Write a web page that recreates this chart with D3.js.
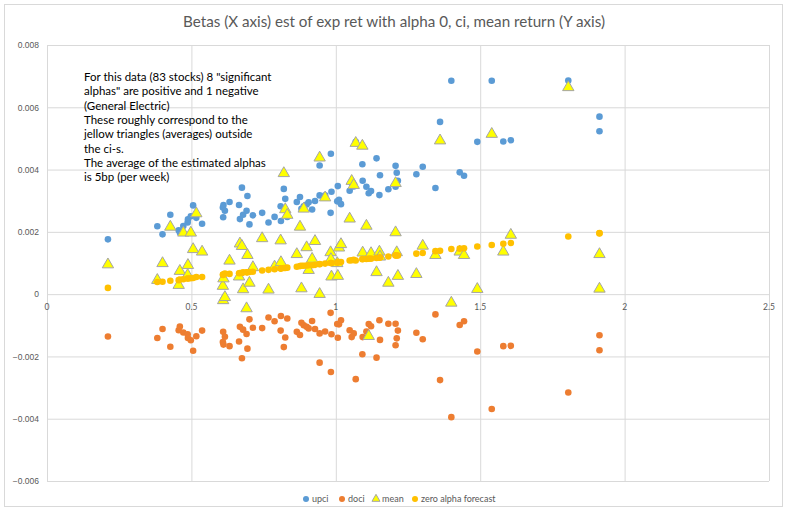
<!DOCTYPE html>
<html>
<head>
<meta charset="utf-8">
<script src="https://cdn.jsdelivr.net/npm/d3@7"></script>
<style>
  body { margin: 0; background: #fff; }
  svg { display: block; font-family: Lato, "Open Sans", sans-serif; }
</style>
</head>
<body>
<svg id="chart" width="787" height="515"></svg>
<script>
// betas of the 83 stocks (x) and the four series (y)
const betas = [
  0.211, 0.382, 0.400, 0.427, 0.456, 0.460, 0.472, 0.487, 0.488, 0.498, 0.506, 0.517, 0.537,
  0.609, 0.610, 0.611, 0.616, 0.632, 0.665, 0.668, 0.675, 0.679, 0.691, 0.694, 0.701, 0.713,
  0.745, 0.767, 0.788, 0.809, 0.810, 0.820, 0.825, 0.832, 0.865, 0.876, 0.881, 0.889, 0.899,
  0.906, 0.918, 0.928, 0.944, 0.944, 0.963, 0.982, 0.983, 0.985, 1.005, 1.007, 1.011, 1.018,
  1.048, 1.055, 1.062, 1.069, 1.092, 1.093, 1.106, 1.114, 1.122, 1.141, 1.151, 1.153, 1.182,
  1.207, 1.207, 1.211, 1.215,
  1.279, 1.301, 1.345, 1.361, 1.400, 1.429, 1.444, 1.490, 1.540, 1.580, 1.606, 1.805, 1.913, 1.913
];
const upci = [
  0.00176, 0.00218, 0.00192, 0.00255, 0.00205, 0.00198, 0.00219, 0.00230, 0.00240, 0.00250, 0.00285, 0.00245, 0.00226,
  0.00278, 0.00247, 0.00286, 0.00268, 0.00296, 0.00286, 0.00241, 0.00342, 0.00255, 0.00268, 0.00315, 0.00224, 0.00253,
  0.00261, 0.00230, 0.00248, 0.00282, 0.00235, 0.00338, 0.00306, 0.00248, 0.00296, 0.00312, 0.00274, 0.00282, 0.00288,
  0.00295, 0.00272, 0.00299, 0.00413, 0.00317, 0.00317, 0.00261, 0.00451, 0.00329, 0.00298, 0.00347, 0.00303, 0.00289,
  0.00332, 0.00356, 0.00346, 0.00489, 0.00417, 0.00364, 0.00345, 0.00324, 0.00331, 0.00436, 0.00318, 0.00382, 0.00337,
  0.00345, 0.00412, 0.00390, 0.00364,
  0.00385, 0.00409, 0.00341, 0.00553, 0.00685, 0.00391, 0.00380, 0.00489, 0.00685, 0.00490, 0.00494, 0.00686, 0.00523, 0.00570
];
const doci = [
  -0.00136, -0.00141, -0.00112, -0.00169, -0.00116, -0.00104, -0.00123, -0.00129, -0.00141, -0.00148, -0.00182, -0.00135, -0.00117,
  -0.00154, -0.00121, -0.00162, -0.00137, -0.00167, -0.00152, -0.00105, -0.00206, -0.00114, -0.00128, -0.00175, -0.00081, -0.00108,
  -0.00109, -0.00075, -0.00087, -0.00117, -0.00070, -0.00170, -0.00139, -0.00078, -0.00121, -0.00131, -0.00092, -0.00100, -0.00105,
  -0.00110, -0.00086, -0.00112, -0.00220, -0.00126, -0.00120, -0.00060, -0.00250, -0.00129, -0.00096, -0.00140, -0.00097, -0.00084,
  -0.00116, -0.00138, -0.00126, -0.00273, -0.00193, -0.00138, -0.00120, -0.00096, -0.00103, -0.00204, -0.00084, -0.00147, -0.00095,
  -0.00095, -0.00164, -0.00142, -0.00117,
  -0.00124, -0.00145, -0.00065, -0.00276, -0.00395, -0.00099, -0.00087, -0.00184, -0.00369, -0.00167, -0.00166, -0.00316, -0.00132, -0.00180
];
const meanRet = [
  0.00095, 0.00045, 0.00099, 0.00216, 0.00029, 0.00074, 0.00197, 0.00061, 0.00093, 0.00197, 0.00144, 0.00259, 0.00136,
  0.00026, -0.00020, 0.00050, -0.00010, 0.00107, 0.00056, 0.00162, 0.00154, 0.00015, -0.00046, 0.00125, 0.00036, 0.00086,
  0.00179, 0.00014, 0.00088, 0.00172, 0.00102, 0.00388, 0.00272, 0.00254, 0.00128, 0.00216, 0.00018, 0.00274, 0.00150,
  0.00077, 0.00113, 0.00170, 0.00438, 0.00000, 0.00310, 0.00134, 0.00112, 0.00056, 0.00099, 0.00058, 0.00149, 0.00160,
  0.00242, 0.00363, 0.00350, 0.00485, 0.00476, 0.00133, 0.00219, -0.00135, 0.00131, 0.00070, 0.00136, 0.00120, 0.00036,
  0.00356, 0.00198, 0.00134, 0.00058,
  0.00064, 0.00155, 0.00125, 0.00493, -0.00028, 0.00136, 0.00125, 0.00016, 0.00514, 0.00136, 0.00190, 0.00664, 0.00128, 0.00017
];
const zeroAlpha = [
  0.00020, 0.00039, 0.00040, 0.00043, 0.00045, 0.00047, 0.00048, 0.00050, 0.00050, 0.00051, 0.00052, 0.00055, 0.00055,
  0.00062, 0.00063, 0.00062, 0.00066, 0.00065, 0.00067, 0.00068, 0.00068, 0.00070, 0.00070, 0.00070, 0.00071, 0.00072,
  0.00076, 0.00078, 0.00080, 0.00082, 0.00082, 0.00084, 0.00084, 0.00085, 0.00088, 0.00090, 0.00091, 0.00091, 0.00092,
  0.00093, 0.00093, 0.00094, 0.00097, 0.00096, 0.00098, 0.00100, 0.00100, 0.00100, 0.00101, 0.00103, 0.00103, 0.00103,
  0.00108, 0.00109, 0.00110, 0.00108, 0.00112, 0.00113, 0.00113, 0.00114, 0.00114, 0.00116, 0.00117, 0.00118, 0.00121,
  0.00125, 0.00124, 0.00124, 0.00124,
  0.00130, 0.00132, 0.00138, 0.00139, 0.00145, 0.00146, 0.00147, 0.00153, 0.00158, 0.00162, 0.00164, 0.00185, 0.00196, 0.00195
];

const xTicks = [0, 0.5, 1, 1.5, 2, 2.5];
const yTicks = [0.008, 0.006, 0.004, 0.002, 0, -0.002, -0.004, -0.006];

const titleText = "Betas (X axis) est of exp ret with alpha 0, ci, mean return (Y axis)";
const noteLines = [
  "For this data (83 stocks) 8 \"significant",
  "alphas\" are positive and 1 negative",
  "(General Electric)",
  "These roughly correspond to the",
  "jellow triangles (averages) outside",
  "the ci-s.",
  "The average of the estimated alphas",
  "is 5bp (per week)"
];

const series = [
  { name: "upci", values: upci, color: "#5B9BD5", shape: "circle" },
  { name: "doci", values: doci, color: "#ED7D31", shape: "circle" },
  { name: "mean", values: meanRet, color: "#FFFF00", shape: "triangle" },
  { name: "zero alpha forecast", values: zeroAlpha, color: "#FFC000", shape: "circle" }
];

const svg = d3.select("#chart");
const textColor = "#595959";
const gridColor = "#D9D9D9";

const x = d3.scaleLinear().domain([0, 2.5]).range([47, 769]);
const y = d3.scaleLinear().domain([-0.006, 0.008]).range([481, 45]);

// chart frame
svg.append("rect")
  .attr("x", 4.5).attr("y", 4.5)
  .attr("width", 778).attr("height", 502)
  .attr("fill", "#fff").attr("stroke", gridColor);

svg.append("text")
  .attr("x", 394).attr("y", 27)
  .attr("text-anchor", "middle")
  .attr("fill", textColor)
  .style("font-size", "15.2px")
  .text(titleText);

// gridlines + y labels
const yAxis = d3.axisLeft(y).tickValues(yTicks).tickSize(-(x.range()[1] - x.range()[0]))
  .tickFormat(d => d === 0 ? "0" : d3.format(".3f")(d));
svg.append("g")
  .attr("transform", `translate(${x(0)},0)`)
  .call(yAxis)
  .call(g => g.select(".domain").remove())
  .call(g => g.selectAll("line").attr("stroke", gridColor))
  .call(g => g.selectAll("text").attr("x", -8).attr("fill", textColor).style("font-size", "8.5px"));

const xAxis = d3.axisBottom(x).tickValues(xTicks).tickSize(-(y.range()[0] - y.range()[1]));
svg.append("g")
  .attr("transform", `translate(0,${y(-0.006)})`)
  .call(xAxis)
  .call(g => g.select(".domain").remove())
  .call(g => g.selectAll("line").attr("stroke", gridColor))
  .call(g => g.selectAll("text").remove());

// x labels sit under the zero line
svg.append("g").selectAll("text")
  .data(xTicks)
  .join("text")
  .attr("x", d => x(d))
  .attr("y", y(0) + 16)
  .attr("text-anchor", "middle")
  .attr("fill", textColor)
  .style("font-size", "8.5px")
  .text(d => String(d));

// annotation
svg.append("g").selectAll("text")
  .data(noteLines)
  .join("text")
  .attr("x", 84)
  .attr("y", (d, i) => 81 + i * 14.3)
  .attr("fill", "#000")
  .style("font-size", "11.5px")
  .text(d => d);

const triangle = d3.symbol().type(d3.symbolTriangle).size(56);

series.forEach(s => {
  const g = svg.append("g");
  const pts = betas.map((b, i) => [b, s.values[i]]);
  if (s.shape === "circle") {
    g.selectAll("circle")
      .data(pts)
      .join("circle")
      .attr("cx", d => x(d[0]))
      .attr("cy", d => y(d[1]))
      .attr("r", 3.3)
      .attr("fill", s.color);
  } else {
    g.selectAll("path")
      .data(pts)
      .join("path")
      .attr("d", triangle)
      .attr("transform", d => `translate(${x(d[0])},${y(d[1])})`)
      .attr("fill", s.color)
      .attr("stroke", "#A5A5A5")
      .attr("stroke-width", 1);
  }
});

// legend
const legendX = [306, 342, 376, 415];
const legend = svg.append("g").selectAll("g")
  .data(series)
  .join("g")
  .attr("transform", (d, i) => `translate(${legendX[i]},499)`);
legend.each(function (d) {
  const g = d3.select(this);
  if (d.shape === "circle") {
    g.append("circle").attr("r", 3).attr("fill", d.color);
  } else {
    g.append("path").attr("d", d3.symbol().type(d3.symbolTriangle).size(28))
      .attr("fill", d.color).attr("stroke", "#A5A5A5");
  }
  g.append("text")
    .attr("x", 6).attr("y", 3)
    .attr("fill", textColor)
    .style("font-size", "9px")
    .text(d.name);
});
</script>
</body>
</html>
